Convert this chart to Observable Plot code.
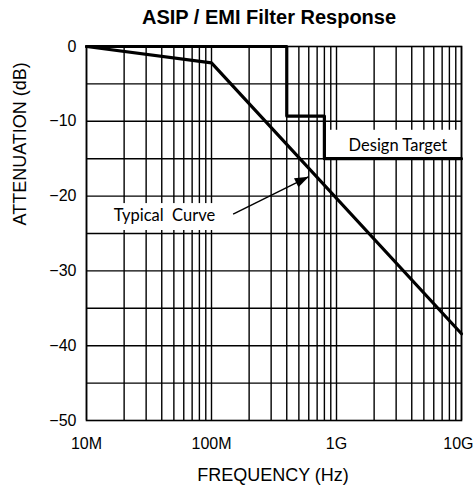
<!DOCTYPE html>
<html>
<head>
<meta charset="utf-8">
<script src="https://cdn.jsdelivr.net/npm/d3@7"></script>
<script src="https://cdn.jsdelivr.net/npm/@observablehq/plot@0.6"></script>
<style>
  html, body { margin: 0; padding: 0; background: #fff; }
</style>
</head>
<body>
<div id="chart"></div>
<script>
const title = "ASIP / EMI Filter Response";
const xLabel = "FREQUENCY (Hz)";
const yLabel = "ATTENUATION (dB)";

// Typical curve (Hz, dB)
const typicalFreq = [1e7, 1e8, 1e10];
const typicalAtt = [0, -2.2, -38.4];

// Design target step line (Hz, dB)
const targetFreq = [1e7, 4e8, 4e8, 8e8, 8e8, 1e10];
const targetAtt = [0, 0, -9.3, -9.3, -15, -15];

// Axis ticks
const xTicks = [1e7, 1e8, 1e9, 1e10];
const xTickLabels = ["10M", "100M", "1G", "10G"];
const yTicks = [0, -10, -20, -30, -40, -50];
const yGrid = [-5, -10, -15, -20, -25, -30, -35, -40, -45];
const decades = [1e7, 1e8, 1e9];
const multipliers = [1, 2, 3, 4, 5, 6, 7, 8, 9];

// Annotations (data units)
const targetLabel = "Design Target";
const targetLabelPos = [3.1e9, -13.2];
const targetLabelBox = [8.6e8, 9.8e9, -11.2, -15];
const curveLabel = "Typical\u00A0 Curve";
const curveLabelPos = [4.2e7, -22.6];
const curveLabelBox = [1.3e7, 1.45e8, -21.0, -24.6];
const arrowFrom = [1.49e8, -22.4];
const arrowTo = [6.0e8, -17.4];

const xGrid = decades.flatMap(d => multipliers.map(m => m * d)).concat([1e10]);
const typical = typicalFreq.map((f, i) => ({f, a: typicalAtt[i]}));
const target = targetFreq.map((f, i) => ({f, a: targetAtt[i]}));
const lastTick = xTicks.length - 1;

// Narrow filled arrowhead, tip at origin, pointing along the arrow direction
const arrowHead = {
  draw(context) {
    const ux = 0.897, uy = -0.442, L = 14, w = 5;
    const nx = -uy, ny = ux;
    const bx = -L * ux, by = -L * uy;
    context.moveTo(0, 0);
    context.lineTo(bx + w * nx, by + w * ny);
    context.lineTo(bx - w * nx, by - w * ny);
    context.closePath();
  }
};

const fontMain = "'Liberation Sans', Arial, sans-serif";
const fontNote = "Lato, 'Open Sans', sans-serif";

const chart = Plot.plot({
  width: 475,
  height: 491,
  marginTop: 46,
  marginBottom: 71,
  marginLeft: 86,
  marginRight: 14,
  style: {fontFamily: fontMain, fontSize: "16px", color: "#000", background: "#fff"},
  x: {
    type: "log",
    domain: [1e7, 1e10],
    ticks: xTicks.slice(0, lastTick),
    tickFormat: d => xTickLabels[xTicks.indexOf(d)] ?? "",
    tickSize: 0,
    tickPadding: 17,
    label: null
  },
  y: {
    domain: [-50, 0],
    ticks: yTicks,
    tickSize: 0,
    tickPadding: 10,
    label: null
  },
  marks: [
    Plot.ruleX(xGrid, {stroke: "#000", strokeWidth: 1.4}),
    Plot.ruleY(yGrid, {stroke: "#000", strokeWidth: 1.4}),
    Plot.frame({stroke: "#000", strokeWidth: 1.6}),
    Plot.rect([targetLabelBox], {x1: d => d[0], x2: d => d[1], y1: d => d[2], y2: d => d[3], fill: "#fff"}),
    Plot.rect([curveLabelBox], {x1: d => d[0], x2: d => d[1], y1: d => d[2], y2: d => d[3], fill: "#fff"}),
    Plot.line(target, {x: "f", y: "a", stroke: "#000", strokeWidth: 3.2}),
    Plot.line(typical, {x: "f", y: "a", stroke: "#000", strokeWidth: 3.2}),
    Plot.text([targetLabel], {x: () => targetLabelPos[0], y: () => targetLabelPos[1], text: d => d,
      fontFamily: fontNote, fontSize: 16.5, fill: "#000"}),
    Plot.text([curveLabel], {x: () => curveLabelPos[0], y: () => curveLabelPos[1], text: d => d,
      fontFamily: fontNote, fontSize: 16.5, fill: "#000"}),
    Plot.link([[arrowFrom, arrowTo]], {x1: d => d[0][0], y1: d => d[0][1], x2: d => d[1][0], y2: d => d[1][1],
      stroke: "#000", strokeWidth: 1.4}),
    Plot.dot([arrowTo], {x: d => d[0], y: d => d[1], symbol: arrowHead, r: 5, fill: "#000", stroke: "none"}),
    // last x tick label kept inside the picture edge
    Plot.text([xTickLabels[lastTick]], {x: () => xTicks[lastTick], frameAnchor: "bottom", lineAnchor: "middle",
      textAnchor: "end", dx: 12, dy: 23, fontSize: 16, fill: "#000"}),
    Plot.text([title], {frameAnchor: "top", lineAnchor: "middle", dy: -29, dx: -5,
      fontWeight: "bold", fontSize: 20, fill: "#000"}),
    Plot.text([xLabel], {frameAnchor: "bottom", lineAnchor: "middle", dy: 55, dx: -1,
      fontSize: 18, fill: "#000"}),
    Plot.text([yLabel], {frameAnchor: "left", lineAnchor: "middle", rotate: -90, dx: -66, dy: -8,
      fontSize: 18, fill: "#000"})
  ]
});

document.getElementById("chart").appendChild(chart);
</script>
</body>
</html>
